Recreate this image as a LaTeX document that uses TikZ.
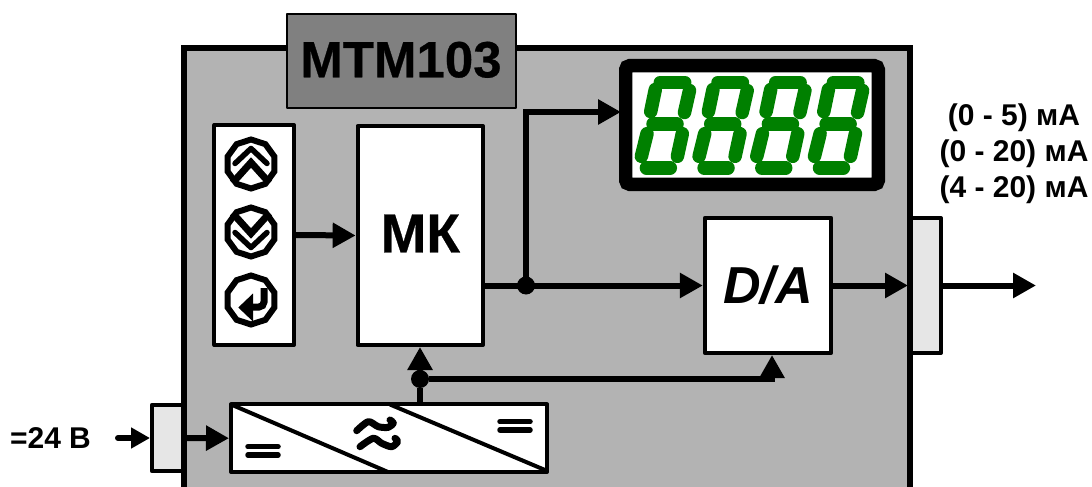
\documentclass[tikz,border=0pt]{standalone}
\usepackage{fontspec}
\setmainfont{Liberation Sans}
\newfontfamily\heavyfont{Liberation Sans}[BoldFeatures={FakeBold=0.5}]
\usetikzlibrary{arrows.meta,shapes.geometric}
\definecolor{body_gray}{HTML}{B3B3B3}
\definecolor{title_gray}{HTML}{808080}
\definecolor{port_gray}{HTML}{E6E6E6}
\definecolor{seg_green}{HTML}{008000}
\tikzset{
        treebox/.style={rectangle,draw=black,inner sep=0pt,line width=4pt,line join=round,align=center},
        % White blocks
        block_white/.style={treebox, fill=white},
        % Terminals on the housing
        block_port/.style={treebox, fill=port_gray},
        % Signal lines
        wire/.style={line width=6pt, line cap=round},
        wire_arrow/.style={wire, -{Triangle[length=23pt,width=24pt]}},
        % Junction dots
        node_dot/.style={circle, fill=black, inner sep=0pt, minimum size=18pt},
        % Display segments
        seg/.style={seg_green, line width=13.5pt, line cap=round},
        % Keys on the panel
        node_key/.style={regular polygon, regular polygon sides=10, shape border rotate=18, draw=black, fill=white, line width=6pt, inner sep=0pt, minimum size=49pt},
        key_line/.style={line width=5.5pt, line cap=round, line join=round},
        key_wide/.style={line width=7pt, line join=miter},
        % Symbols on the converter
        conv_line/.style={line width=5.5pt, line cap=round},
        conv_wave/.style={line width=7pt, line cap=round, line join=round},
        % Captions
        label_big/.style={font=\heavyfont\bfseries, inner sep=0pt},
        label_side/.style={font=\fontsize{30}{36}\selectfont\bfseries, inner sep=0pt, align=center}
}
\begin{document}
\begin{tikzpicture}[x=1pt,y=-1pt]
    \useasboundingbox (0,0) rectangle (1092,487);
    % housing
    \fill[body_gray] (184,48) rectangle (910,487);
    \node[block_port, minimum width=32pt, minimum height=66.5pt] (port_in) at (168,438) {};
    \node[block_port, minimum width=31pt, minimum height=135pt] (port_out) at (925.5,285.5) {};
    \draw[line width=6pt] (184,487) |- (910,48) -- (910,487);
    \node[treebox, fill=title_gray, line width=2pt, minimum width=229pt, minimum height=93pt, label_big] (title) at (401,61) {\fontsize{51}{56}\selectfont\raisebox{3pt}{МТМ103}};

    % blocks
    \node[block_white, minimum width=79.7pt, minimum height=220pt] (panel) at (254.2,235) {};
    \node[block_white, minimum width=125.3pt, minimum height=219pt, label_big] (mk) at (420.3,235.5) {\fontsize{55}{60}\selectfont\raisebox{4pt}{МК}};
    \node[block_white, minimum width=126.3pt, minimum height=135pt, label_big] (dac) at (768,285.5) {\fontsize{52}{56}\selectfont\itshape\raisebox{2pt}{D/A}};
    \node[block_white, minimum width=316pt, minimum height=67.5pt] (conv) at (389,438.2) {};
    \node[rectangle, draw=black, fill=white, line width=13.3pt, rounded corners=4pt, inner sep=0pt, minimum width=252.7pt, minimum height=118.7pt] (display) at (752,125) {};

    % digits
    \foreach \d in {0,1,2,3} {
        \begin{scope}[xshift=\d*57.7pt]
            \draw[seg] (660.3,82.4) -- (684.7,82.4);
            \draw[seg] (655.3,89.5) -- (650.7,111.6);
            \draw[seg] (689.5,90.5) -- (684.5,112.5);
            \draw[seg] (653,124) -- (677,124);
            \draw[seg] (647,133.7) -- (641.4,156.3);
            \draw[seg] (682.3,133.7) -- (677.4,156.3);
            \draw[seg] (646.4,167.8) -- (670.3,167.8);
        \end{scope}
    }

    % keys
    \node[node_key] (key_up) at (251,164) {};
    \node[node_key] (key_down) at (251,232) {};
    \node[node_key] (key_enter) at (251,300) {};
    \draw[key_line] (235,163.5) -- (251,148.5) -- (267,163.5);
    \draw[key_wide] (232.5,183) -- (251,162.5) -- (269.5,183);
    \draw[key_line] (235,232.5) -- (251,247.5) -- (267,232.5);
    \draw[key_wide] (232.5,213) -- (251,233.5) -- (269.5,213);
    \draw[line width=7pt, rounded corners=5pt] (264,288) -- (264,307) -- (248,307);
    \fill (238.3,307.5) -- (253,293.5) -- (253,321.5) -- cycle;

    % converter
    \draw[line width=4pt] (conv.north west) ++(2,2) -- (388,472);
    \draw[line width=4pt] (390,404.5) -- (545,470);
    \draw[conv_line] (248,446.7) -- (278,446.7);
    \draw[conv_line] (248,455) -- (278,455);
    \draw[conv_line] (500,421.7) -- (530,421.7);
    \draw[conv_line] (500,430) -- (530,430);
    \draw[conv_wave] plot[smooth] coordinates {(356.7,430.7) (368.3,421.7) (378.3,426.7) (388.3,427.3) (393.3,423) (390,420)};
    \draw[conv_wave] plot[smooth] coordinates {(360,446.7) (373.3,438.3) (381.7,443.3) (391.7,446.7) (397.7,441.5) (395,438.3)};

    % signal lines
    \node[node_dot] (dac_dot) at (526,285.5) {};
    \node[node_dot] (pwr_dot) at (420,379) {};
    \coordinate (disp_in) at (621,112);
    \coordinate (dac_pwr) at (dac.south -| 772,0);
    \coordinate (in_start) at (118,438);
    \coordinate (out_end) at (1036,285.5);

    \draw[wire_arrow] (panel.east) -- (mk.west);
    \draw[wire_arrow] (mk.east |- dac.west) -- (dac.west);
    \draw[wire_arrow] (dac_dot) |- (disp_in);
    \draw[wire_arrow] (dac.east) -- (port_out.west);
    \draw[wire_arrow] (port_out.east) -- (out_end);
    \draw[wire, -{Triangle[length=19pt,width=20pt]}] (in_start) -- (port_in.west);
    \draw[wire_arrow] (port_in.east) -- (conv.west);
    \draw[wire, line cap=butt] (conv.north -| pwr_dot) -- (pwr_dot);
    \draw[wire_arrow] (pwr_dot) -- (pwr_dot |- mk.south);
    \draw[wire_arrow, line cap=butt] (pwr_dot) -| (dac_pwr);

    % captions
    \node[label_side] (supply) at (50.5,438) {=24 В};
    \node[label_side] (ranges) at (1014,154) {(0 - 5) мА\\(0 - 20) мА\\(4 - 20) мА};
\end{tikzpicture}
\end{document}
